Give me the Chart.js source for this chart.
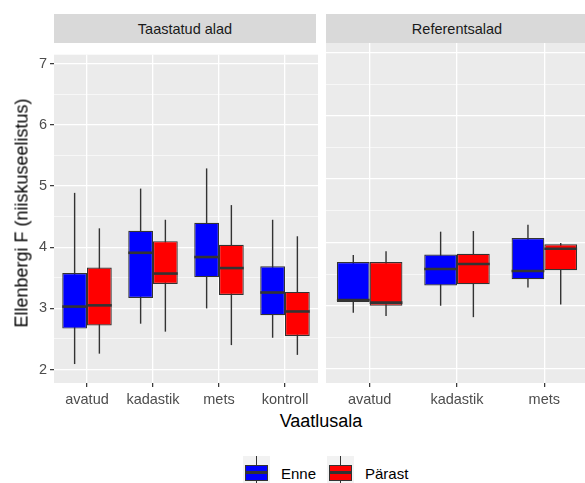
<!DOCTYPE html>
<html>
<head>
<meta charset="utf-8">
<script src="https://cdn.jsdelivr.net/npm/chart.js@4/dist/chart.umd.min.js"></script>
<style>
  html, body { margin:0; padding:0; background:#fff; overflow:hidden; }
  body { width:585px; height:483px; position:relative; font-family:"Liberation Sans", Arial, sans-serif; }
  .strip { position:absolute; top:14px; height:29px; background:#D9D9D9; color:#1A1A1A;
           font-size:14.5px; line-height:30px; text-align:center; }
  .cv { position:absolute; top:43px; }
  .ytitle { position:absolute; left:22px; top:213px; transform:translate(-50%,-50%) rotate(-90deg);
            font-size:18px; white-space:nowrap; color:#000; }
  .xtitle { position:absolute; left:321px; top:421px; transform:translate(-50%,-50%);
            font-size:18px; color:#000; }
  .key { position:absolute; top:456px; width:27px; height:28px; background:#F2F2F2; overflow:hidden; }
  .key .w { position:absolute; left:13px; top:0; width:1.4px; height:28px; background:#333; }
  .key .b { position:absolute; left:2px; top:9px; width:21px; height:14px; border:1.2px solid #333; }
  .key .m { position:absolute; left:2px; top:15px; width:23px; height:2.6px; background:#333; }
  .lab { position:absolute; top:465px; font-size:15px; color:#000; }
</style>
</head>
<body>
<div class="strip" style="left:54px;width:262px">Taastatud alad</div>
<div class="strip" style="left:326px;width:262px">Referentsalad</div>
<canvas id="left" class="cv" style="left:0px" width="318" height="362"></canvas>
<canvas id="right" class="cv" style="left:326px" width="262" height="362"></canvas>
<div class="ytitle">Ellenbergi F (niiskuseelistus)</div>
<div class="xtitle">Vaatlusala</div>
<div class="key" style="left:243px"><div class="w"></div><div class="b" style="background:#0000FF"></div><div class="m"></div></div>
<div class="lab" style="left:281px">Enne</div>
<div class="key" style="left:327px"><div class="w"></div><div class="b" style="background:#FF0000"></div><div class="m"></div></div>
<div class="lab" style="left:365px">Pärast</div>
<script>
// [alumine vurrud, Q1, mediaan, Q3, ülemine vurrud]
const restoredCats = ['avatud', 'kadastik', 'mets', 'kontroll'];
const restoredEnne = [[2.09, 2.67, 3.03, 3.58, 4.89], [2.75, 3.17, 3.91, 4.27, 4.96], [3.00, 3.51, 3.84, 4.40, 5.29], [2.52, 2.89, 3.26, 3.69, 4.45]];
const restoredParast = [[2.26, 2.72, 3.05, 3.67, 4.31], [2.62, 3.40, 3.57, 4.10, 4.45], [2.40, 3.22, 3.66, 4.04, 4.69], [2.24, 2.55, 2.95, 3.27, 4.18]];

const refCats = ['avatud', 'kadastik', 'mets'];
const refEnne = [[2.89, 3.06, 3.09, 3.69, 3.80], [3.00, 3.32, 3.58, 3.81, 4.17], [3.29, 3.42, 3.55, 4.07, 4.28]];
const refParast = [[2.84, 3.00, 3.05, 3.69, 3.86], [2.82, 3.34, 3.66, 3.82, 4.18], [3.02, 3.56, 3.90, 3.97, 3.99]];

const seriesNames = ['Enne', 'Pärast'];
const seriesColors = ['#0000FF', '#FF0000'];
const yMin = 1.78, yMax = 7.15;

const panelBg = {
  id: 'panelBg',
  beforeDraw(chart) {
    const { ctx, chartArea: ca } = chart;
    ctx.save();
    ctx.fillStyle = '#EBEBEB';
    ctx.fillRect(ca.left, ca.top, ca.right - ca.left, ca.bottom - ca.top);
    ctx.restore();
  }
};

const boxParts = {
  id: 'boxParts',
  beforeDatasetsDraw(chart) {
    const { ctx, scales } = chart;
    ctx.save();
    ctx.strokeStyle = '#333333';
    ctx.lineWidth = 1.4;
    chart.data.datasets.forEach((ds, i) => {
      chart.getDatasetMeta(i).data.forEach((el, j) => {
        const s = ds.stats[j];
        ctx.beginPath();
        ctx.moveTo(el.x, scales.y.getPixelForValue(s[0]));
        ctx.lineTo(el.x, scales.y.getPixelForValue(s[4]));
        ctx.stroke();
      });
    });
    ctx.restore();
  },
  afterDatasetsDraw(chart) {
    const { ctx, scales } = chart;
    ctx.save();
    ctx.strokeStyle = '#333333';
    ctx.lineWidth = 2.6;
    chart.data.datasets.forEach((ds, i) => {
      chart.getDatasetMeta(i).data.forEach((el, j) => {
        const y = scales.y.getPixelForValue(ds.stats[j][2]);
        ctx.beginPath();
        ctx.moveTo(el.x - el.width / 2, y);
        ctx.lineTo(el.x + el.width / 2, y);
        ctx.stroke();
      });
    });
    ctx.restore();
  }
};

function makePanel(id, cats, series, showY) {
  const datasets = series.map((st, k) => ({
    label: seriesNames[k],
    data: st.map(s => [s[1], s[3]]),
    stats: st,
    backgroundColor: seriesColors[k],
    borderColor: '#333333',
    borderWidth: 1.2,
    borderSkipped: false,
    categoryPercentage: 0.75,
    barPercentage: 1.0
  }));
  const isInt = v => Math.abs(v - Math.round(v)) < 1e-6;
  return new Chart(document.getElementById(id), {
    type: 'bar',
    data: { labels: cats, datasets },
    options: {
      responsive: false,
      animation: false,
      layout: { padding: 0 },
      plugins: { legend: { display: false }, tooltip: { enabled: false } },
      scales: {
        x: {
          grid: { offset: false, color: '#FFFFFF', lineWidth: 1.3, tickLength: 4, tickColor: '#333333', tickWidth: 1.2 },
          border: { display: false },
          ticks: { color: '#4D4D4D', font: { family: 'Liberation Sans', size: 14.5 }, padding: 4, maxRotation: 0 },
          afterFit(sc) { sc.height = 22; }
        },
        y: {
          min: yMin, max: yMax,
          grid: {
            color: '#FFFFFF',
            lineWidth: c => isInt(c.tick.value) ? 1.3 : 0.6,
            drawTicks: showY,
            tickLength: 4,
            tickColor: c => isInt(c.tick.value) ? '#333333' : 'rgba(0,0,0,0)',
            tickWidth: 1.2
          },
          border: { display: false },
          ticks: {
            display: showY,
            stepSize: 0.5,
            includeBounds: false,
            color: '#4D4D4D',
            font: { family: 'Liberation Sans', size: 14.5 },
            padding: 3,
            callback: v => isInt(v) ? v : ''
          },
          afterFit(sc) { sc.width = showY ? 54 : 0; }
        }
      }
    },
    plugins: [panelBg, boxParts]
  });
}

makePanel('left', restoredCats, [restoredEnne, restoredParast], true);
makePanel('right', refCats, [refEnne, refParast], false);
</script>
</body>
</html>
